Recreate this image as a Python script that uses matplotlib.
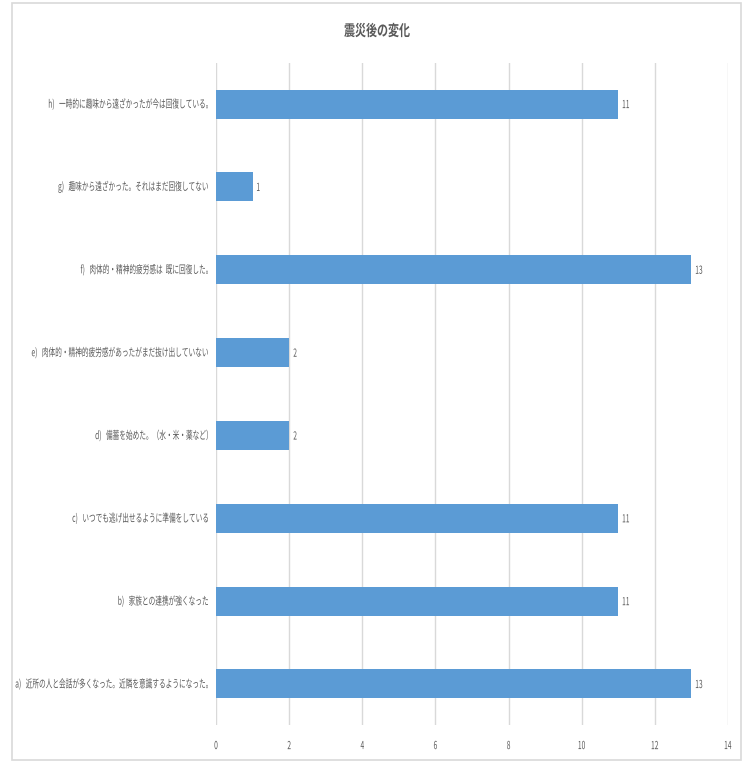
import matplotlib.pyplot as plt
import matplotlib.patches as patches
from matplotlib.textpath import TextPath
from matplotlib.font_manager import FontProperties
from matplotlib.transforms import Affine2D, ScaledTranslation, blended_transform_factory

plt.rcParams['font.family'] = ['Noto Sans CJK JP', 'DejaVu Sans']

categories = [
    "a)   近所の人と会話が多くなった。近隣を意識するようになった。",
    "b)   家族との連携が強くなった",
    "c)   いつでも逃げ出せるように準備をしている",
    "d)   備蓄を始めた。（水・米・薬など）",
    "e)   肉体的・精神的疲労感があったがまだ抜け出していない",
    "f)   肉体的・精神的疲労感は  既に回復した。",
    "g)   趣味から遠ざかった。それはまだ回復してない",
    "h)   一時的に趣味から遠ざかったが今は回復している。",
]
values = [13, 11, 11, 2, 2, 13, 1, 11]
xticks = [0, 2, 4, 6, 8, 10, 12, 14]
title = "震災後の変化"

gray = '#595959'

fig = plt.figure(figsize=(7.54, 7.62), dpi=100)
fig.patches.append(patches.Rectangle((12/754, 2/762), 729/754, 757/762, transform=fig.transFigure,
                                     fill=False, edgecolor='#d9d9d9', linewidth=1.2))
ax = fig.add_axes([216/754, 36.6/762, 512/754, 662.8/762])


# the original uses a condensed font, so draw text as paths squeezed sideways
def squeezed(s, x, y, trans, size, sx, ha='right', color=gray, weight='normal'):
    fp = FontProperties(family='Noto Sans CJK JP', size=size, weight=weight)
    tp = TextPath((0, 0), s, prop=fp)
    ext = tp.get_extents()
    dx = {'right': -ext.x1, 'left': -ext.x0, 'center': -(ext.x0 + ext.x1) / 2}[ha]
    dy = -(ext.y0 + ext.y1) / 2
    k = fig.dpi / 72
    t = Affine2D().translate(dx, dy).scale(sx * k, k) + ScaledTranslation(x, y, trans)
    fig.add_artist(patches.PathPatch(tp, transform=t, facecolor=color, edgecolor='none', lw=0))


y = list(range(len(categories)))
bars = ax.barh(y, values, height=0.35, color='#5b9bd5', zorder=3)

ax.set_xlim(0, 14)
ax.set_ylim(-0.5, len(categories) - 0.5)
ax.set_xticks(xticks)
ax.set_xticklabels([])
ax.set_yticks(y)
ax.set_yticklabels([])
ax.tick_params(axis='both', length=0)
ax.grid(axis='x', color='#d9d9d9', linewidth=1, zorder=0)
for s in ax.spines.values():
    s.set_visible(False)

for rect, v in zip(bars, values):
    squeezed(str(v), rect.get_width() + 0.12, rect.get_y() + rect.get_height() / 2,
             ax.transData, 8, 0.6, ha='left')

lab_trans = blended_transform_factory(fig.transFigure, ax.transData)
for yi, lab in zip(y, categories):
    squeezed(lab, 208/754, yi, lab_trans, 8, 0.6, ha='right')

tick_trans = blended_transform_factory(ax.transData, fig.transFigure)
for t in xticks:
    squeezed(str(t), t, 1 - 745/762, tick_trans, 8, 0.6, ha='center')

squeezed(title, 377/754, 1 - 30/762, fig.transFigure, 11, 0.72, ha='center', weight='bold')

fig.savefig('out.png', dpi=100)
